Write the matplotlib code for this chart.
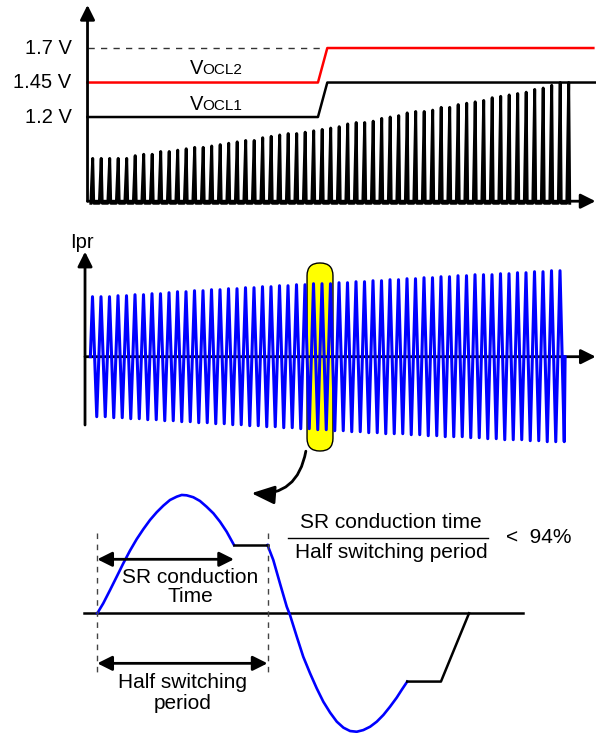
import numpy as np
import matplotlib.pyplot as plt
from matplotlib.patches import FancyBboxPatch

plt.rcParams['font.family'] = ['Liberation Sans', 'DejaVu Sans']

# ========================= Data =========================
# top panel: OCP threshold levels (V) and ramping sense-voltage spikes
LEVEL_LABELS = ['1.7 V', '1.45 V', '1.2 V']
LEVELS = [1.7, 1.45, 1.2]
STEP_CYCLES = [26.5, 27.6]            # threshold switch-over (cycle index)
VOCL1 = [1.2, 1.45]
VOCL2 = [1.45, 1.7]
SPIKE_PEAKS = [0.90, 0.90, 0.90, 0.90, 0.90, 0.92, 0.93, 0.93, 0.95, 0.95,
               0.96, 0.97, 0.98, 0.98, 0.99, 1.00, 1.01, 1.02, 1.03, 1.03,
               1.05, 1.06, 1.07, 1.08, 1.08, 1.09, 1.10, 1.11, 1.12, 1.13,
               1.15, 1.16, 1.16, 1.17, 1.19, 1.20, 1.21, 1.23, 1.24, 1.24,
               1.25, 1.27, 1.27, 1.29, 1.30, 1.31, 1.32, 1.34, 1.35, 1.36,
               1.37, 1.38, 1.40, 1.41, 1.43, 1.45, 1.45]

# middle panel: primary current Ipr, positive / negative peak per cycle (a.u.)
IPR_TOP = [60, 60, 60, 61, 61, 62, 62, 63, 63, 64,
           65, 65, 66, 66, 67, 67, 68, 68, 69, 69,
           70, 70, 71, 71, 72, 72, 73, 73, 73, 74,
           74, 75, 75, 76, 76, 77, 77, 78, 78, 79,
           79, 80, 80, 81, 81, 82, 82, 82, 83, 83,
           84, 84, 85, 85, 86, 86]
IPR_BOT = [60, 60, 61, 61, 62, 62, 63, 63, 64, 64,
           65, 65, 66, 66, 67, 67, 68, 68, 69, 69,
           70, 70, 71, 71, 72, 72, 73, 73, 74, 74,
           75, 75, 76, 76, 77, 77, 77, 78, 78, 79,
           79, 80, 80, 80, 81, 81, 82, 82, 83, 83,
           83, 84, 84, 85, 85, 85]
HIGHLIGHT = [25.24, 28.29]           # highlighted cycles

# bottom panel: one switching period, t in half periods, current normalised
POS_T = [0.000, 0.035, 0.075, 0.114, 0.153, 0.192, 0.231, 0.270, 0.310, 0.349, 0.388,
         0.427, 0.467, 0.496, 0.525, 0.564, 0.603, 0.642, 0.682, 0.721, 0.760, 0.803]
POS_I = [0.000, 0.083, 0.194, 0.305, 0.417, 0.522, 0.617, 0.700, 0.778, 0.842, 0.897,
         0.944, 0.972, 0.986, 0.983, 0.967, 0.936, 0.888, 0.833, 0.763, 0.680, 0.569]
NEG_T = [1.000, 1.034, 1.073, 1.113, 1.132, 1.172, 1.210, 1.250, 1.289, 1.328, 1.368, 1.407,
         1.446, 1.485, 1.524, 1.563, 1.603, 1.642, 1.681, 1.720, 1.759, 1.788, 1.821]
NEG_I = [0.569, 0.444, 0.250, 0.055, -0.014, -0.195, -0.362, -0.500, -0.625, -0.737, -0.828,
         -0.903, -0.953, -0.981, -0.987, -0.973, -0.945, -0.903, -0.847, -0.778, -0.703,
         -0.639, -0.569]
POS_OFF_T = [0.803, 1.0]
POS_OFF_I = [0.569, 0.569]
NEG_OFF_T = [1.821, 2.019, 2.184]
NEG_OFF_I = [-0.569, -0.569, 0.0]

# ========================= Figure =========================
W, H = 596, 733
fig = plt.figure(figsize=(W / 100, H / 100), dpi=100)

def panel(y0, y1, xlim, ylim):
    """Full-width axes covering pixel rows y0..y1 (from top)."""
    ax = fig.add_axes([0, 1 - y1 / H, 1, (y1 - y0) / H])
    ax.set_xlim(xlim)
    ax.set_ylim(ylim)
    ax.axis('off')
    return ax

def axis_arrow(ax, start, end):
    ax.annotate('', xy=end, xytext=start, annotation_clip=False,
                arrowprops=dict(arrowstyle='-|>', mutation_scale=22, lw=2,
                                color='k', shrinkA=0, shrinkB=0))

# ---------------- top panel ----------------
ax1 = panel(0, 215, (-10.906, 59.212), (0.49, 2.048))
x_org, y_org = -0.61, 0.59
axis_arrow(ax1, (x_org, y_org), (x_org, 2.012))
axis_arrow(ax1, (x_org, y_org), (59.15, y_org))

c = np.arange(len(SPIKE_PEAKS))
sx = np.column_stack([c - 0.22, c, c + 0.12]).ravel()
sy = np.column_stack([np.full(len(c), 0.575), SPIKE_PEAKS, np.full(len(c), 0.575)]).ravel()
ax1.plot(sx, sy, color='k', lw=2.1, solid_joinstyle='round', clip_on=False)

ax1.plot([x_org, STEP_CYCLES[0] + 0.6], [1.7, 1.7], color='#333333', lw=1,
         dashes=(4.5, 4.5))
ax1.plot([x_org, STEP_CYCLES[0], STEP_CYCLES[1], 59.3],
         [VOCL1[0], VOCL1[0], VOCL1[1], VOCL1[1]], color='k', lw=1.8, clip_on=False)
ax1.plot([x_org, STEP_CYCLES[0], STEP_CYCLES[1], 58.9],
         [VOCL2[0], VOCL2[0], VOCL2[1], VOCL2[1]], color='#ff0000', lw=1.8)

for lab, lev in zip(LEVEL_LABELS, LEVELS):
    ax1.annotate(lab, xy=(x_org, lev), xytext=(-11.5, 0), textcoords='offset points',
                 ha='right', va='center', fontsize=14.5)

for lev, sub in [(1.512, 'OCL2'), (1.251, 'OCL1')]:
    ax1.text(11.4, lev, 'V', fontsize=14.5, ha='left', va='baseline')
    ax1.annotate(sub, xy=(11.4, lev), xytext=(9.3, 0), textcoords='offset points',
                 fontsize=11, ha='left', va='baseline')

# ---------------- middle panel ----------------
ax2 = panel(225, 460, (-10.882, 59.235), (-103.3, 131.7))
x_org2 = -0.88
axis_arrow(ax2, (x_org2, -68.3), (x_org2, 105))
axis_arrow(ax2, (x_org2, 0), (59.2, 0))
ax2.annotate('Ipr', xy=(x_org2, 105), xytext=(-2, 2.5), textcoords='offset points',
             ha='center', va='baseline', fontsize=14.5, annotation_clip=False)

n = len(IPR_TOP)
k = np.arange(n)
wx = np.concatenate([[-0.25], np.column_stack([k, k + 0.5]).ravel(), [n - 0.4]])
wy = np.concatenate([[0], np.column_stack([IPR_TOP, -np.array(IPR_BOT)]).ravel(), [0]])
ax2.plot(wx, wy, color='#0000ff', lw=2.2, zorder=3)

cap = FancyBboxPatch((HIGHLIGHT[0], -94.3), HIGHLIGHT[1] - HIGHLIGHT[0], 188,
                     boxstyle='round,pad=0,rounding_size=1.5', mutation_aspect=8.5,
                     facecolor='#ffff00', edgecolor='k', lw=1, zorder=1)
ax2.add_patch(cap)

ax2.annotate('', xy=(18.7, -136.5), xytext=(25.1, -94.5), annotation_clip=False,
             arrowprops=dict(arrowstyle='-|>,head_length=0.7,head_width=0.28',
                             mutation_scale=20, lw=2, color='k',
                             connectionstyle='arc3,rad=-0.45', shrinkA=0, shrinkB=0))

# ---------------- bottom panel ----------------
ax3 = panel(470, 733, (-0.5717, 2.930), (-0.9975, 1.194))
ax3.plot([-0.078, 2.501], [0, 0], color='k', lw=1.8)
ax3.plot(POS_T, POS_I, color='#0000ff', lw=1.9, clip_on=False)
ax3.plot(NEG_T, NEG_I, color='#0000ff', lw=1.9, clip_on=False)
ax3.plot(POS_OFF_T, POS_OFF_I, color='k', lw=1.8)
ax3.plot(NEG_OFF_T, NEG_OFF_I, color='k', lw=1.8)

for t in [0, 1]:
    ax3.plot([t, t], [0.669, -0.489], color='#444444', lw=1, dashes=(4, 4))

dbl = dict(arrowstyle='<|-|>', mutation_scale=22, lw=2, color='k', shrinkA=0, shrinkB=0)
ax3.annotate('', xy=(POS_T[-1], 0.45), xytext=(0, 0.45), arrowprops=dbl)
ax3.annotate('', xy=(1, -0.417), xytext=(0, -0.417), arrowprops=dbl)

ax3.text(0.545, 0.30, 'SR conduction', ha='center', va='center', fontsize=15)
ax3.text(0.545, 0.14, 'Time', ha='center', va='center', fontsize=15)
ax3.text(0.5, -0.58, 'Half switching', ha='center', va='center', fontsize=15)
ax3.text(0.5, -0.75, 'period', ha='center', va='center', fontsize=15)

ax3.text(1.724, 0.76, 'SR conduction time', ha='center', va='center', fontsize=15)
ax3.plot([1.12, 2.295], [0.6275, 0.6275], color='k', lw=1)
ax3.text(1.727, 0.51, 'Half switching period', ha='center', va='center', fontsize=15)
ax3.text(2.40, 0.6275, '<  94%', ha='left', va='center', fontsize=15)

fig.savefig('out.png', dpi=100)
